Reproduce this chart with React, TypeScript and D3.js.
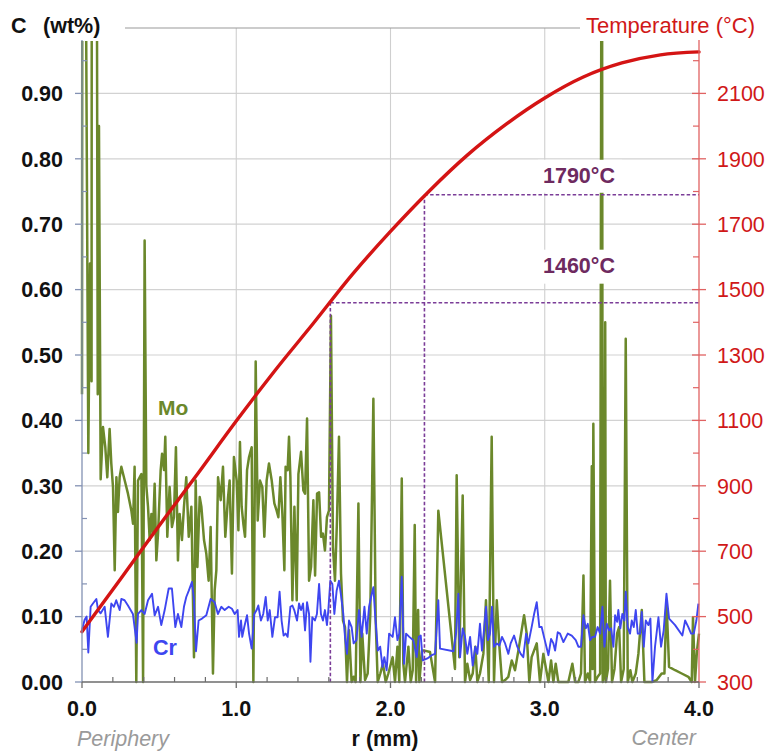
import React from "react";
import * as d3 from "d3";

// ---------- data ----------
const moR = [
  0.000, 0.003, 0.016, 0.041, 0.052, 0.062, 0.064, 0.093, 0.102, 0.110, 0.121,
  0.136, 0.151, 0.164, 0.179, 0.190, 0.201, 0.212, 0.223, 0.233, 0.244, 0.255, 0.277, 0.298, 0.320, 0.331, 0.341, 0.352, 0.363, 0.374, 0.385, 0.396,
  0.406, 0.417, 0.428, 0.439, 0.450, 0.460, 0.471, 0.482, 0.493, 0.510, 0.519, 0.532, 0.540, 0.553, 0.568, 0.583, 0.596, 0.609, 0.622, 0.633,
  0.648, 0.661, 0.676, 0.692, 0.709, 0.726, 0.737, 0.748, 0.763, 0.774, 0.791, 0.806, 0.821, 0.834, 0.849, 0.860, 0.871, 0.882, 0.899, 0.914,
  0.929, 0.947, 0.957, 0.972, 0.985,
  1.003, 1.014, 1.024, 1.035, 1.046, 1.057, 1.070, 1.083, 1.100, 1.111, 1.126, 1.139, 1.154, 1.169, 1.182, 1.197, 1.212, 1.230, 1.247, 1.262,
  1.273, 1.286, 1.299, 1.312, 1.320, 1.333, 1.342, 1.351, 1.364, 1.377, 1.392, 1.403, 1.420, 1.435, 1.446, 1.459, 1.472, 1.485, 1.500, 1.511,
  1.524, 1.537, 1.550, 1.562, 1.575, 1.588, 1.601, 1.614, 1.627, 1.640, 1.653, 1.666, 1.679, 1.692, 1.705, 1.718, 1.731, 1.748, 1.761, 1.774,
  1.792, 1.805, 1.817, 1.835, 1.852, 1.869, 1.889, 1.904, 1.917, 1.934, 1.951, 1.969, 1.986,
  2.014, 2.029, 2.045, 2.057, 2.073, 2.083, 2.094, 2.116, 2.131, 2.144, 2.157, 2.166, 2.179, 2.187, 2.204, 2.222, 2.256, 2.289, 2.310, 2.418,
  2.429, 2.446, 2.468, 2.483, 2.498, 2.516, 2.533, 2.550, 2.563, 2.580, 2.602, 2.619, 2.637, 2.656, 2.671, 2.689, 2.706, 2.723, 2.743, 2.764,
  2.786, 2.807, 2.829, 2.866, 2.883, 2.900, 2.915, 2.948, 2.969, 2.991,
  3.024, 3.041, 3.056, 3.071, 3.088, 3.121, 3.153, 3.179, 3.197, 3.218, 3.235, 3.251, 3.261, 3.279, 3.294, 3.305, 3.310, 3.315, 3.326, 3.343,
  3.359, 3.370, 3.376, 3.384, 3.392, 3.396, 3.410, 3.423, 3.436, 3.452, 3.469, 3.482, 3.495, 3.512, 3.525, 3.538, 3.555, 3.568, 3.590, 3.607,
  3.629, 3.646, 3.694, 3.726, 3.758, 3.776, 3.789, 3.806, 3.845, 3.888, 3.931, 3.953, 3.961, 3.974, 3.987, 4.000,
];
const moC = [
  0.44, 1.50, 1.50, 0.35, 0.64, 0.46, 1.50, 1.50, 0.44, 0.85, 0.31,
  0.390, 0.359, 0.313, 0.387, 0.334, 0.298, 0.171, 0.313, 0.260, 0.313, 0.329, 0.308, 0.288, 0.262, 0.242, 0.329, 0.000, 0.308, 0.313, 0.318, 0.000,
  0.675, 0.300, 0.268, 0.217, 0.257, 0.227, 0.303, 0.186, 0.227, 0.324, 0.349, 0.324, 0.375, 0.222, 0.298, 0.237, 0.252, 0.359, 0.186, 0.257,
  0.217, 0.268, 0.313, 0.222, 0.268, 0.038, 0.308, 0.176, 0.283, 0.268, 0.217, 0.196, 0.155, 0.237, 0.013, 0.140, 0.171, 0.313, 0.278, 0.329,
  0.222, 0.283, 0.308, 0.166, 0.344,
  0.308, 0.232, 0.367, 0.268, 0.242, 0.222, 0.324, 0.344, 0.359, 0.000, 0.490, 0.247, 0.308, 0.298, 0.222, 0.308, 0.334, 0.308, 0.273, 0.262,
  0.252, 0.313, 0.257, 0.171, 0.329, 0.324, 0.375, 0.313, 0.125, 0.268, 0.125, 0.318, 0.352, 0.293, 0.288, 0.403, 0.155, 0.176, 0.278, 0.163,
  0.288, 0.290, 0.222, 0.227, 0.201, 0.252, 0.262, 0.560, 0.206, 0.155, 0.247, 0.375, 0.166, 0.094, 0.084, 0.000, 0.079, 0.000, 0.008, 0.000,
  0.273, 0.000, 0.074, 0.003, 0.013, 0.104, 0.433, 0.094, 0.000, 0.013, 0.028, 0.000, 0.013,
  0.038, 0.000, 0.054, 0.000, 0.311, 0.028, 0.000, 0.054, 0.000, 0.018, 0.240, 0.000, 0.110, 0.000, 0.048, 0.048, 0.046, 0.000, 0.262, 0.020,
  0.316, 0.038, 0.285, 0.000, 0.028, 0.003, 0.013, 0.054, 0.000, 0.013, 0.043, 0.125, 0.000, 0.375, 0.000, 0.125, 0.054, 0.000, 0.003, 0.008,
  0.033, 0.018, 0.048, 0.102, 0.074, 0.000, 0.038, 0.059, 0.000, 0.043,
  0.000, 0.033, 0.000, 0.028, 0.000, 0.000, 0.000, 0.028, 0.000, 0.000, 0.013, 0.163, 0.000, 0.013, 0.000, 0.330, 0.020, 0.395, 0.000, 0.008,
  0.013, 1.500, 0.000, 0.010, 0.550, 0.000, 0.020, 0.155, 0.000, 0.020, 0.074, 0.084, 0.000, 0.020, 0.525, 0.000, 0.018, 0.000, 0.013, 0.043,
  0.110, 0.000, 0.000, 0.003, 0.013, 0.013, 0.125, 0.023, 0.018, 0.013, 0.008, 0.000, 0.099, 0.000, 0.048, 0.074,
];

const crR = [
  0.000, 0.017, 0.030, 0.041, 0.056, 0.071, 0.093, 0.104, 0.121, 0.147, 0.168, 0.190, 0.207, 0.222, 0.244, 0.255, 0.276, 0.298, 0.330, 0.354,
  0.363, 0.385, 0.406, 0.428, 0.454, 0.471, 0.493, 0.514, 0.536, 0.562, 0.583, 0.605, 0.622, 0.644, 0.661, 0.676, 0.693, 0.713, 0.726, 0.739,
  0.756, 0.778, 0.806, 0.834, 0.860, 0.881, 0.903, 0.925, 0.951, 0.972, 0.990,
  1.009, 1.018, 1.031, 1.039, 1.052, 1.070, 1.083, 1.100, 1.117, 1.132, 1.143, 1.160, 1.175, 1.191, 1.204, 1.217, 1.234, 1.251, 1.268, 1.281,
  1.294, 1.307, 1.320, 1.333, 1.351, 1.364, 1.376, 1.394, 1.407, 1.420, 1.433, 1.446, 1.459, 1.472, 1.481, 1.493, 1.510, 1.523, 1.537, 1.549,
  1.562, 1.575, 1.588, 1.597, 1.610, 1.623, 1.636, 1.651, 1.666, 1.679, 1.694, 1.705, 1.718, 1.731, 1.748, 1.761, 1.779, 1.796, 1.813, 1.831,
  1.846, 1.861, 1.874, 1.889, 1.900, 1.918, 1.933, 1.948, 1.960, 1.975, 1.991,
  2.014, 2.029, 2.045, 2.057, 2.073, 2.088, 2.101, 2.122, 2.148, 2.170, 2.183, 2.196, 2.209, 2.239, 2.267, 2.289, 2.310, 2.321, 2.408, 2.425,
  2.440, 2.451, 2.468, 2.483, 2.498, 2.516, 2.533, 2.550, 2.563, 2.580, 2.593, 2.606, 2.619, 2.632, 2.645, 2.658, 2.671, 2.689, 2.706, 2.723,
  2.743, 2.764, 2.779, 2.801, 2.822, 2.844, 2.861, 2.879, 2.894, 2.915, 2.931, 2.948, 2.965, 2.980, 2.995,
  3.024, 3.041, 3.056, 3.067, 3.084, 3.099, 3.121, 3.149, 3.175, 3.201, 3.218, 3.235, 3.251, 3.266, 3.279, 3.294, 3.309, 3.326, 3.343, 3.359,
  3.374, 3.387, 3.402, 3.417, 3.430, 3.445, 3.456, 3.469, 3.477, 3.490, 3.503, 3.516, 3.525, 3.538, 3.553, 3.564, 3.577, 3.590, 3.603, 3.618,
  3.629, 3.642, 3.655, 3.672, 3.685, 3.698, 3.715, 3.737, 3.754, 3.771, 3.789, 3.806, 3.845, 3.892, 3.910, 3.931, 3.949, 3.966, 3.983, 3.996,
];
const crC = [
  0.080, 0.095, 0.100, 0.045, 0.115, 0.120, 0.127, 0.110, 0.105, 0.115, 0.069, 0.120, 0.115, 0.125, 0.110, 0.127, 0.125, 0.117, 0.104, 0.060,
  0.104, 0.110, 0.104, 0.125, 0.135, 0.102, 0.115, 0.087, 0.110, 0.143, 0.143, 0.084, 0.104, 0.084, 0.115, 0.130, 0.140, 0.153, 0.125, 0.047,
  0.094, 0.097, 0.102, 0.127, 0.122, 0.104, 0.115, 0.110, 0.115, 0.112, 0.104,
  0.110, 0.069, 0.094, 0.069, 0.084, 0.102, 0.074, 0.051, 0.104, 0.110, 0.117, 0.094, 0.104, 0.130, 0.094, 0.110, 0.069, 0.099, 0.099, 0.138,
  0.094, 0.071, 0.074, 0.069, 0.115, 0.117, 0.110, 0.094, 0.120, 0.110, 0.120, 0.079, 0.122, 0.104, 0.031, 0.099, 0.094, 0.104, 0.150, 0.104,
  0.094, 0.110, 0.087, 0.110, 0.155, 0.150, 0.104, 0.140, 0.155, 0.133, 0.104, 0.069, 0.043, 0.094, 0.084, 0.059, 0.064, 0.110, 0.069, 0.115,
  0.074, 0.115, 0.130, 0.145, 0.104, 0.048, 0.054, 0.023, 0.038, 0.018, 0.074,
  0.069, 0.099, 0.064, 0.074, 0.161, 0.028, 0.074, 0.069, 0.064, 0.038, 0.069, 0.071, 0.033, 0.036, 0.041, 0.043, 0.125, 0.051, 0.047, 0.074,
  0.135, 0.038, 0.082, 0.069, 0.043, 0.069, 0.025, 0.054, 0.043, 0.089, 0.048, 0.079, 0.115, 0.064, 0.074, 0.115, 0.054, 0.059, 0.056, 0.069,
  0.059, 0.043, 0.059, 0.071, 0.054, 0.043, 0.038, 0.074, 0.059, 0.084, 0.104, 0.122, 0.084, 0.084, 0.069,
  0.041, 0.066, 0.059, 0.048, 0.076, 0.074, 0.061, 0.074, 0.071, 0.064, 0.054, 0.054, 0.102, 0.082, 0.089, 0.064, 0.069, 0.069, 0.084, 0.074,
  0.115, 0.054, 0.089, 0.079, 0.082, 0.054, 0.102, 0.092, 0.110, 0.082, 0.104, 0.094, 0.138, 0.084, 0.074, 0.094, 0.084, 0.110, 0.074, 0.074,
  0.107, 0.054, 0.094, 0.087, 0.097, 0.000, 0.054, 0.099, 0.054, 0.079, 0.135, 0.097, 0.087, 0.071, 0.094, 0.084, 0.074, 0.074, 0.094, 0.120,
];

const tempR = [0, 0.25, 0.5, 0.75, 1.0, 1.25, 1.5, 1.75, 2.0, 2.25, 2.5, 2.75, 3.0, 3.25, 3.5, 3.75, 4.0];
const tempT = [454, 615, 778, 937, 1098, 1252, 1397, 1545, 1678, 1801, 1912, 2006, 2086, 2150, 2193, 2218, 2227];

const markerR = [1.61, 2.22];
const markerT = [1460, 1790];
const markerLabels = ["1460°C", "1790°C"];

const xTicks = [0, 1, 2, 3, 4];
const xMinor = [0.2, 0.4, 0.6, 0.8, 1.2, 1.4, 1.6, 1.8, 2.2, 2.4, 2.6, 2.8, 3.2, 3.4, 3.6, 3.8];
const cTicks = [0, 0.1, 0.2, 0.3, 0.4, 0.5, 0.6, 0.7, 0.8, 0.9];
const cMinor = [0.05, 0.15, 0.25, 0.35, 0.45, 0.55, 0.65, 0.75, 0.85, 0.95];
const tTicks = [300, 500, 700, 900, 1100, 1300, 1500, 1700, 1900, 2100];
const tMinor = [400, 600, 800, 1000, 1200, 1400, 1600, 1800, 2000, 2200];

// ---------- layout ----------
const W = 769, H = 752;
const L = 82, R = 699, T = 28, B = 682;
const AXTOP = 40;
const FONT = "'Liberation Sans', Arial, Helvetica, sans-serif";
// label placement (pixels above each marker's dashed line)
const labelLift = [30, 12];
const boxTopLift = [53, 35];
const boxBottomLift = [19, 2];

const x = d3.scaleLinear().domain([0, 4]).range([L, R]);
const y = d3.scaleLinear().domain([0, 1]).range([B, T]);
const yT = d3.scaleLinear().domain([300, 2300]).range([B, T]);

const MO = "#6b882b";
const CR = "#3e46f0";
const RED = "#d41414";
const PURPLE = "#6e2a5f";
const DASH = "#7b3d98";

export default function App() {
  const moPts: [number, number][] = moR.map((r, i) => [r, moC[i]]);
  const crPts: [number, number][] = crR.map((r, i) => [r, crC[i]]);
  const tPts: [number, number][] = tempR.map((r, i) => [r, tempT[i]]);

  const lineC = d3.line<[number, number]>().x((d) => x(d[0])).y((d) => y(d[1]));
  const lineT = d3
    .line<[number, number]>()
    .x((d) => x(d[0]))
    .y((d) => yT(d[1]))
    .curve(d3.curveMonotoneX);

  return (
    <div style={{ position: "absolute", left: 0, top: 0 }}>
      <svg width={W} height={H} style={{ display: "block", background: "#fff" }} fontFamily={FONT}>
        <defs>
          <clipPath id="plotclip">
            <rect x={L - 2} y={41} width={R - L + 4} height={B - 41 + 3} />
          </clipPath>
        </defs>

        {/* grid */}
        {cTicks.filter((v) => v > 0).map((v) => (
          <line key={"hg" + v} x1={L} x2={R} y1={y(v)} y2={y(v)} stroke="#d2d2d2" strokeWidth={1.2} />
        ))}
        {xTicks.filter((v) => v > 0 && v < 4).map((v) => (
          <line key={"vg" + v} x1={x(v)} x2={x(v)} y1={T} y2={B} stroke="#cfcfcf" strokeWidth={1.1} />
        ))}
        {/* top border */}
        <line x1={125} x2={580} y1={T} y2={T} stroke="#9a9a9a" strokeWidth={1.2} />

        {/* data */}
        <g clipPath="url(#plotclip)">
          <path d={lineC(moPts) || ""} fill="none" stroke={MO} strokeWidth={2.5} strokeLinejoin="round" />
        </g>
        <path d={lineC(crPts) || ""} fill="none" stroke={CR} strokeWidth={1.9} strokeLinejoin="round" />

        {/* label boxes hiding lines */}
        {markerT.map((t, i) => (
          <rect
            key={"box" + i}
            x={538}
            y={yT(t) - boxTopLift[i]}
            width={84}
            height={boxTopLift[i] - boxBottomLift[i]}
            fill="#fff"
          />
        ))}

        {/* dashed markers */}
        {markerR.map((r, i) => (
          <g key={"mk" + i}>
            <line x1={x(r)} x2={x(r)} y1={B} y2={yT(markerT[i])} stroke={DASH} strokeWidth={1.6} strokeDasharray="3.5,2.2" />
            <line x1={x(r)} x2={R} y1={yT(markerT[i])} y2={yT(markerT[i])} stroke={DASH} strokeWidth={1.6} strokeDasharray="3.5,2.2" />
            <text x={543} y={yT(markerT[i]) - labelLift[i]} fontSize={21.5} fontWeight="bold" fill={PURPLE}>
              {markerLabels[i]}
            </text>
          </g>
        ))}

        {/* temperature curve */}
        <path d={lineT(tPts) || ""} fill="none" stroke={RED} strokeWidth={3.4} strokeLinecap="round" />

        {/* left axis */}
        <line x1={L} x2={L} y1={AXTOP} y2={B} stroke="#8391b3" strokeWidth={1.3} />
        {cTicks.map((v) => (
          <g key={"ct" + v}>
            <line x1={L - 7} x2={L} y1={y(v)} y2={y(v)} stroke="#8391b3" strokeWidth={1.3} />
            <text x={63} y={y(v)} dy="0.36em" textAnchor="end" fontSize={21.5} fontWeight="bold" fill="#111">
              {d3.format(".2f")(v)}
            </text>
          </g>
        ))}
        {cMinor.map((v) => (
          <line key={"cm" + v} x1={L} x2={L + 5} y1={y(v)} y2={y(v)} stroke="#8391b3" strokeWidth={1.2} />
        ))}

        {/* right axis */}
        <line x1={R} x2={R} y1={AXTOP} y2={B} stroke="#e06262" strokeWidth={1.3} />
        {tTicks.map((v) => (
          <g key={"tt" + v}>
            <line x1={R - 7} x2={R + 7} y1={yT(v)} y2={yT(v)} stroke="#e06262" strokeWidth={1.3} />
            <text x={717} y={yT(v)} dy="0.36em" fontSize={21.5} fill="#d01818">
              {v}
            </text>
          </g>
        ))}
        {tMinor.map((v) => (
          <line key={"tm" + v} x1={R - 6} x2={R} y1={yT(v)} y2={yT(v)} stroke="#e06262" strokeWidth={1.2} />
        ))}

        {/* bottom axis */}
        <line x1={L} x2={R} y1={B} y2={B} stroke="#6d6d6d" strokeWidth={1.5} />
        {xTicks.map((v) => (
          <g key={"xt" + v}>
            <line x1={x(v)} x2={x(v)} y1={B} y2={B + 6} stroke="#6d6d6d" strokeWidth={1.3} />
            <text x={x(v)} y={716} textAnchor="middle" fontSize={21.5} fontWeight="bold" fill="#111">
              {d3.format(".1f")(v)}
            </text>
          </g>
        ))}
        {xMinor.map((v) => (
          <line key={"xm" + v} x1={x(v)} x2={x(v)} y1={B} y2={B - 5} stroke="#6d6d6d" strokeWidth={1.2} />
        ))}

        {/* titles */}
        <text x={11} y={33} fontSize={21.5} fontWeight="bold" fill="#111">C</text>
        <text x={43} y={33} fontSize={21.5} fontWeight="bold" fill="#111">(wt%)</text>
        <text x={755} y={33} textAnchor="end" fontSize={22} fill="#d01818">Temperature (°C)</text>
        <text x={385} y={746} textAnchor="middle" fontSize={21.5} fontWeight="bold" fill="#111">r (mm)</text>
        <text x={77} y={746} fontSize={21.5} fontStyle="italic" fill="#9a9a9a">Periphery</text>
        <text x={696} y={745} textAnchor="end" fontSize={21.5} fontStyle="italic" fill="#9a9a9a">Center</text>
        <text x={158} y={415} fontSize={21} fontWeight="bold" fill={MO}>Mo</text>
        <text x={153} y={655} fontSize={21.5} fontWeight="bold" fill={CR}>Cr</text>
      </svg>
    </div>
  );
}
